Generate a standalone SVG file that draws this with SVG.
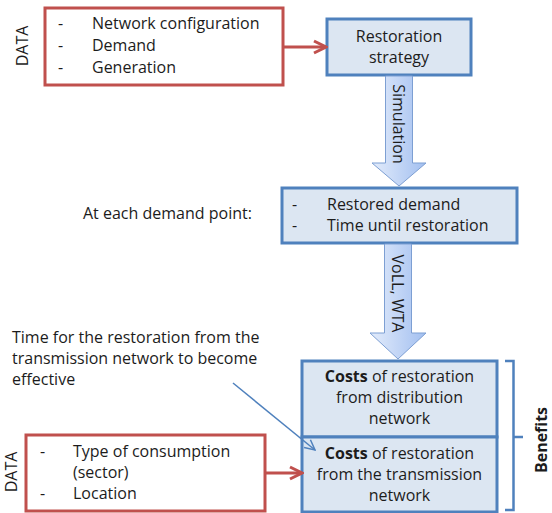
<svg xmlns="http://www.w3.org/2000/svg" width="552" height="513" viewBox="0 0 552 513">
  <defs>
    <style>
      text { font-family: "Open Sans", "Liberation Sans", sans-serif; font-size: 16px; fill: #1c1c1c; }
      .mid { text-anchor: middle; }
      .b { font-weight: bold; }
      .data { fill: #ffffff; stroke: #c0504d; stroke-width: 3; }
      .step { fill: #dce6f2; stroke: #4f81bd; stroke-width: 3; }
      .flow { fill: url(#flowFill); stroke: #7d9fd3; stroke-width: 1; }
      .red { fill: none; stroke: #c0504d; stroke-width: 3; }
      .note { fill: none; stroke: #4f81bd; stroke-width: 1.5; }
      .brace { fill: none; stroke: #4f81bd; stroke-width: 2.5; }
    </style>
    <linearGradient id="flowFill" x1="0" y1="0" x2="1" y2="0">
      <stop offset="0" stop-color="#e3ecfb"/>
      <stop offset="1" stop-color="#a2bff0"/>
    </linearGradient>
    <marker id="redHead" viewBox="0 0 16 16" refX="14" refY="8" markerWidth="16" markerHeight="16" markerUnits="userSpaceOnUse" orient="auto">
      <path d="M2,2 L14,8 L2,14" fill="none" stroke="#c0504d" stroke-width="3"/>
    </marker>
    <marker id="blueHead" viewBox="0 0 12 12" refX="11" refY="6" markerWidth="12" markerHeight="12" markerUnits="userSpaceOnUse" orient="auto">
      <path d="M1,1 L11,6 L1,11" fill="none" stroke="#4f81bd" stroke-width="1.5"/>
    </marker>
  </defs>

  <!-- input data for the restoration strategy -->
  <g id="data-network">
    <rect class="data" x="45" y="8" width="238" height="77"/>
    <text x="58" y="29">-</text>
    <text x="92" y="29">Network configuration</text>
    <text x="58" y="51">-</text>
    <text x="92" y="51">Demand</text>
    <text x="58" y="73">-</text>
    <text x="92" y="73">Generation</text>
  </g>
  <text class="mid" transform="translate(28,46) rotate(-90)">DATA</text>

  <g id="restoration-strategy">
    <rect class="step" x="327" y="19" width="144" height="56"/>
    <text class="mid" x="399" y="41.5">Restoration</text>
    <text class="mid" x="399" y="63">strategy</text>
  </g>

  <g id="restored-demand">
    <rect class="step" x="282" y="188" width="235" height="55"/>
    <text x="292" y="210">-</text>
    <text x="327" y="210">Restored demand</text>
    <text x="292" y="231">-</text>
    <text x="327" y="231">Time until restoration</text>
  </g>
  <text x="83" y="219">At each demand  point:</text>

  <g id="costs-distribution">
    <rect class="step" x="302" y="361" width="195" height="76"/>
    <text class="mid" x="399.5" y="382"><tspan class="b">Costs</tspan> of restoration</text>
    <text class="mid" x="399.5" y="403">from distribution</text>
    <text class="mid" x="399.5" y="423.5">network</text>
  </g>

  <g id="costs-transmission">
    <rect class="step" x="302" y="437" width="195" height="75"/>
    <text class="mid" x="399.5" y="458.5"><tspan class="b">Costs</tspan> of restoration</text>
    <text class="mid" x="399.5" y="480">from the transmission</text>
    <text class="mid" x="399.5" y="500.5">network</text>
  </g>

  <g id="data-consumers">
    <rect class="data" x="26" y="435" width="239" height="76"/>
    <text x="40" y="457">-</text>
    <text x="73" y="457">Type of consumption</text>
    <text x="73" y="478">(sector)</text>
    <text x="40" y="498.5">-</text>
    <text x="73" y="498.5">Location</text>
  </g>
  <text class="mid" transform="translate(17,472) rotate(-90)">DATA</text>

  <g id="delay-note">
    <text x="12" y="343">Time for the restoration  from the</text>
    <text x="12" y="364">transmission network to become</text>
    <text x="12" y="385">effective</text>
  </g>

  <g id="benefits">
    <path class="brace" d="M505,361 H513.5 V437 H523 M513.5,437 V510 H505"/>
    <text class="mid b" transform="translate(547,440) rotate(-90)">Benefits</text>
  </g>

  <!-- connectors -->
  <g id="connectors">
    <line class="red" x1="283" y1="47" x2="326" y2="47" marker-end="url(#redHead)"/>
    <line class="red" x1="265" y1="473" x2="302" y2="473" marker-end="url(#redHead)"/>
    <line class="note" x1="233" y1="383" x2="315" y2="450" marker-end="url(#blueHead)"/>

    <path class="flow" d="M385.5,76 H412.5 V163 H426 L399,186 L372,163 H385.5 Z"/>
    <text class="mid" transform="translate(393,124) rotate(90)">Simulation</text>

    <path class="flow" d="M384.5,244 H411.5 V333 H426 L398,359 L370,333 H384.5 Z"/>
    <text class="mid" transform="translate(392,293.5) rotate(90)">VoLL, WTA</text>
  </g>
</svg>
